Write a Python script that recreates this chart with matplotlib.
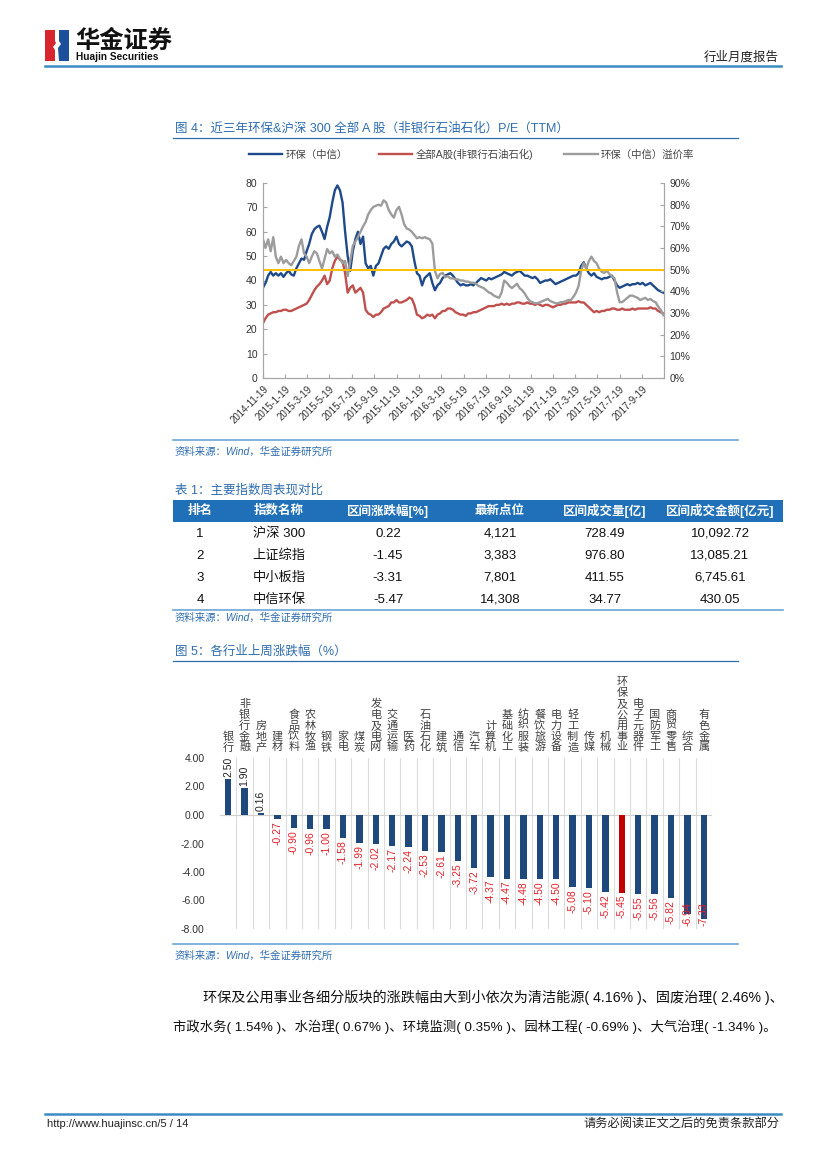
import matplotlib
matplotlib.use('Agg')
import matplotlib.pyplot as plt
from matplotlib.patches import Rectangle, Polygon
import pandas as pd

plt.rcParams['font.family'] = ['Liberation Sans', 'Noto Sans CJK SC', 'DejaVu Sans']
plt.rcParams['axes.unicode_minus'] = False

# ---------------- data: figure 4 (weekly P/E) ----------------
start_date = '2014-11-19'
end_date = '2017-11-17'
hb_pe = [37, 39, 42, 43.5, 42, 43, 42, 43, 41.5, 43, 44, 42.5, 42, 45, 47, 49, 48.5, 52, 55, 59,
         61, 62, 62.5, 60, 57, 62, 66, 72, 77, 79, 77, 72, 60, 50, 44, 52, 57, 60, 55, 58,
         47, 45, 46, 42, 46, 47, 50, 53, 54, 53, 55, 56, 58, 55, 54, 55, 56, 55.5, 54, 48,
         43, 42, 38, 41, 42, 43, 39, 36, 38, 39, 41, 42, 42.5, 43, 42, 40.5, 39, 38, 38.5, 38,
         38, 38.5, 38, 39, 40, 41, 40.5, 40, 41, 40.5, 41, 41.5, 42, 42.5, 43.5, 43, 42.5, 42, 43, 43.5,
         44, 43, 42, 42, 41.5, 41, 41.5, 40.5, 39, 39.5, 40, 40, 40.5, 39.5, 38.5, 39, 39.5, 40, 40.5, 41,
         41.5, 42, 42, 43, 46, 47.5, 45, 43, 42, 43, 41.5, 41, 40.5, 41, 41, 41.5, 42, 40, 38, 37,
         37.5, 38, 38.5, 38, 38.5, 38.5, 39, 38.5, 39, 38, 38.5, 39, 38, 37, 36, 35.5, 35]
a_pe = [22.5, 24.5, 26, 26.5, 27, 27, 27.5, 27.5, 28, 28, 27.5, 27.5, 28, 28.5, 29, 29.5, 30, 30.5, 32, 34,
        36, 37.5, 38.5, 40, 42, 38.5, 40, 45, 48, 50, 48.5, 48, 43, 35, 37, 38, 35, 36, 37, 35,
        28, 26.5, 26, 25, 26, 26, 27, 28.5, 29, 29.5, 31, 31, 32, 31, 31, 31.5, 32, 33, 32.5, 30,
        26, 25.5, 24.5, 25, 26, 25.5, 26, 24.5, 26, 26.5, 27.5, 27.5, 28.5, 28.5, 28, 27, 26.5, 26, 26, 25.5,
        26.5, 26.5, 27, 27, 27.5, 28, 28.5, 29, 29.5, 29.5, 29.5, 30, 30, 30.5, 30, 30.5, 30, 30.5, 30.5, 31,
        31, 30.5, 30.5, 31, 30.5, 30.5, 30, 30.5, 30, 29.5, 30, 30, 29.5, 29, 29.5, 30, 30, 30.5, 30.5, 31,
        31, 31, 31, 31.5, 31, 31, 30, 29, 28, 27, 27.5, 27, 27.5, 27.5, 28, 28, 28.5, 28.5, 28, 28,
        28.5, 28, 28, 28, 28.5, 28, 28.5, 28.5, 28.5, 28.5, 28.5, 29, 28.5, 28.5, 27.5, 27, 26.5]
premium = [64, 60, 64, 58.5, 65, 56, 53, 56, 53, 54.5, 53, 52, 54, 56, 61, 64, 57.5, 56, 53, 56,
           58.5, 57.5, 54, 50.5, 55, 59.5, 57.5, 58.5, 56, 57, 55, 53, 54, 47, 54, 61, 63, 65, 67.5, 70,
           72, 75.5, 77.5, 79, 79.5, 80, 79.5, 82, 81, 77.5, 75.5, 74, 77.5, 79, 75.5, 71, 69, 68.5, 67.5, 66,
           64.5, 65, 64.5, 65, 64.5, 64, 62, 49.5, 46, 48, 48.5, 46.5, 47, 46, 46, 45.5, 45.5, 45, 45, 44.5,
           44.5, 44, 44, 43.5, 42.5, 42, 41.5, 40.5, 39.5, 39, 38, 37.5, 37, 39.5, 45, 44, 42.5, 41.5, 42.5, 43.5,
           41.5, 40.5, 39, 37, 35.5, 35, 34.5, 34.5, 35, 35.5, 36, 36.5, 35.5, 35, 34.5, 34.5, 35, 35, 35.5, 36,
           36, 37.5, 39.5, 42.5, 49.5, 53, 50.5, 54, 56, 54, 53, 50.5, 49, 48.5, 49.5, 48, 47, 46, 39.5, 35,
           35, 36, 37, 38, 38, 37.5, 37, 36, 36.5, 37, 36, 36.5, 35.5, 35, 33, 31.5, 29]
premium_ref = 50
date_ticks = ['2014-11-19', '2015-1-19', '2015-3-19', '2015-5-19', '2015-7-19', '2015-9-19',
              '2015-11-19', '2016-1-19', '2016-3-19', '2016-5-19', '2016-7-19', '2016-9-19',
              '2016-11-19', '2017-1-19', '2017-3-19', '2017-5-19', '2017-7-19', '2017-9-19']
legend_labels = ['环保（中信）', '全部A股(非银行石油石化)', '环保（中信）溢价率']

# ---------------- data: table 1 ----------------
tbl_header = ['排名', '指数名称', '区间涨跌幅[%]', '最新点位', '区间成交量[亿]', '区间成交金额[亿元]']
tbl_rank = ['1', '2', '3', '4']
tbl_name = ['沪深 300', '上证综指', '中小板指', '中信环保']
tbl_pct = ['0.22', '-1.45', '-3.31', '-5.47']
tbl_last = ['4,121', '3,383', '7,801', '14,308']
tbl_vol = ['728.49', '976.80', '411.55', '34.77']
tbl_amt = ['10,092.72', '13,085.21', '6,745.61', '430.05']

# ---------------- data: figure 5 ----------------
industries = ['银行', '非银行金融', '房地产', '建材', '食品饮料', '农林牧渔', '钢铁', '家电', '煤炭',
              '发电及电网', '交通运输', '医药', '石油石化', '建筑', '通信', '汽车', '计算机', '基础化工',
              '纺织服装', '餐饮旅游', '电力设备', '轻工制造', '传媒', '机械', '环保及公用事业',
              '电子元器件', '国防军工', '商贸零售', '综合', '有色金属']
changes = [2.50, 1.90, 0.16, -0.27, -0.90, -0.96, -1.00, -1.58, -1.99, -2.02, -2.17, -2.24, -2.53,
           -2.61, -3.25, -3.72, -4.37, -4.47, -4.48, -4.50, -4.50, -5.08, -5.10, -5.42, -5.45,
           -5.55, -5.56, -5.82, -6.94, -7.33]
highlight = '环保及公用事业'

# ---------------- layout helpers ----------------
W, H = 827, 1169
fig = plt.figure(figsize=(W / 100, H / 100), dpi=100)
fig.patch.set_facecolor('white')


def axes_px(l, t, r, b):
    return fig.add_axes([l / W, 1 - b / H, (r - l) / W, (b - t) / H])


pg = fig.add_axes([0, 0, 1, 1])
pg.set_xlim(0, W)
pg.set_ylim(H, 0)
pg.axis('off')

TITLE_BLUE = '#2E6DB0'
LINE_BLUE = '#3B8CC2'
LIGHT_BLUE = '#6AA6D8'

# header / logo
pg.add_patch(Rectangle((45, 30), 12, 31, color='#D7262E', lw=0))
pg.add_patch(Rectangle((57, 30), 12, 31, color='#1C4F9C', lw=0))
pg.add_patch(Polygon([(55, 30), (59, 30), (59, 41), (61, 44), (58, 48), (59, 61), (55, 61),
                      (55, 50), (53, 47), (56, 43), (55, 41)], closed=True, color='white', lw=0))
pg.text(75, 41, '华金证券', fontsize=17.5, fontweight='bold', color='#111111', va='center', ha='left',
        family=['Noto Sans CJK SC'])
pg.text(76, 56.5, 'Huajin Securities', fontsize=7.3, fontweight='bold', color='#111111', va='center', ha='left')
pg.text(779, 57, '行业月度报告', fontsize=9, color='#222222', va='center', ha='right')
pg.plot([45, 781], [66, 66], color=LINE_BLUE, lw=1.8)

# figure 4 title & source
pg.text(175, 128, '图 4：近三年环保&沪深 300 全部 A 股（非银行石油石化）P/E（TTM）', fontsize=9,
        color=TITLE_BLUE, va='center', ha='left')
pg.plot([173, 738], [137.5, 137.5], color='#2F6CA8', lw=0.9)
pg.plot([173, 738], [440, 440], color=LIGHT_BLUE, lw=1.2)
pg.text(175, 452, '资料来源：Wind，华金证券研究所', fontsize=7.5, color=TITLE_BLUE, style='italic',
        va='center', ha='left')

# ---------------- figure 4: line chart ----------------
dates = pd.date_range(start_date, periods=len(hb_pe), freq='7D')
ax = axes_px(263, 183, 664, 378)
ax.set_facecolor('none')
l1, = ax.plot(dates, hb_pe, color='#1F4A8A', lw=1.7)
l2, = ax.plot(dates, a_pe, color='#C0504D', lw=1.7)
ax.set_ylim(0, 80)
ax.set_yticks(range(0, 81, 10))
ax2 = ax.twinx()
l3, = ax2.plot(dates, premium, color='#9C9C9C', lw=1.7)
ax2.axhline(premium_ref, color='#FFC000', lw=1.4)
ax2.set_ylim(0, 90)
ax2.set_yticks(range(0, 91, 10))
ax2.set_yticklabels([f'{v}%' for v in range(0, 91, 10)])
tick_dates = pd.to_datetime(date_ticks)
ax.set_xlim(pd.Timestamp(start_date), pd.Timestamp(end_date))
ax.set_xticks(tick_dates)
ax.set_xticklabels(date_ticks, rotation=45, ha='right', rotation_mode='anchor')
for a in (ax, ax2):
    a.spines['top'].set_visible(False)
    for s in ('left', 'right', 'bottom'):
        a.spines[s].set_color('#A6A6A6')
        a.spines[s].set_linewidth(0.8)
    a.tick_params(direction='in', length=3, color='#A6A6A6', labelsize=7.5, labelcolor='#333333', pad=4)
ax.tick_params(axis='x', labelsize=7, pad=4)
ax.legend([l1, l2, l3], legend_labels, loc='lower center', bbox_to_anchor=(0.52, 1.07), ncol=3,
          frameon=False, fontsize=7.5, handlelength=3.2, columnspacing=3.0, handletextpad=0.3,
          labelcolor='#444444')

# ---------------- table 1 ----------------
pg.text(175, 490, '表 1：主要指数周表现对比', fontsize=9, color=TITLE_BLUE, va='center', ha='left')
pg.add_patch(Rectangle((173, 500), 610, 22, color='#1F70B8', lw=0))
col_x = [200, 279, 388, 500, 605, 720]
for cx, h in zip(col_x, tbl_header):
    pg.text(cx, 511, h, fontsize=9, color='white', fontweight='bold', va='center', ha='center')
row_y = [534, 556, 578, 600]
columns = [tbl_rank, tbl_name, tbl_pct, tbl_last, tbl_vol, tbl_amt]
for ci, col in enumerate(columns):
    for ri, val in enumerate(col):
        pg.text(col_x[ci], row_y[ri], val, fontsize=9.5, color='#111111', va='center', ha='center')
pg.plot([173, 783], [609.5, 609.5], color=LIGHT_BLUE, lw=1.2)
pg.text(175, 618, '资料来源：Wind，华金证券研究所', fontsize=7.5, color=TITLE_BLUE, style='italic',
        va='center', ha='left')

# ---------------- figure 5: bar chart ----------------
pg.text(175, 651, '图 5：各行业上周涨跌幅（%）', fontsize=9, color=TITLE_BLUE, va='center', ha='left')
pg.plot([173, 738], [661, 661], color='#2F6CA8', lw=0.9)
pg.plot([173, 738], [944, 944], color=LIGHT_BLUE, lw=1.2)
pg.text(175, 956, '资料来源：Wind，华金证券研究所', fontsize=7.5, color=TITLE_BLUE, style='italic',
        va='center', ha='left')

bx = list(range(len(industries)))
bcolors = ['#C00000' if n == highlight else '#1F497D' for n in industries]
ax3 = axes_px(220, 758, 712, 929)
ax3.set_facecolor('none')
for k in bx:
    ax3.axvline(k + 0.5, color='#DCDCDC', lw=0.8, zorder=0)
ax3.axhline(0, color='#D0D0D0', lw=0.8, zorder=1)
ax3.bar(bx, changes, width=0.38, color=bcolors, zorder=2)
ax3.set_xlim(-0.5, len(industries) - 0.5)
ax3.set_ylim(-8, 4)
yt = [4, 2, 0, -2, -4, -6, -8]
ax3.set_yticks(yt)
ax3.set_yticklabels([f'{v:.2f}' for v in yt])
ax3.set_xticks([])
ax3.tick_params(axis='y', length=0, labelsize=7.5, labelcolor='#333333', pad=11)
for s in ax3.spines.values():
    s.set_visible(False)
for i, (name, v) in enumerate(zip(industries, changes)):
    for k, ch in enumerate(reversed(name)):
        ax3.annotate(ch, xy=(i, 1), xycoords=('data', 'axes fraction'), xytext=(0, 4 + k * 7.8),
                     textcoords='offset points', ha='center', va='bottom', fontsize=8,
                     color='#404040', annotation_clip=False)
    if v >= 0:
        ax3.text(i, v + 0.15, f'{v:.2f}', rotation=90, ha='center', va='bottom', fontsize=7.5,
                 color='#222222')
    else:
        ax3.text(i, max(v - 0.15, -6.15), f'{v:.2f}', rotation=90, ha='center', va='top', fontsize=7.5,
                 color='#E8202A')

# ---------------- paragraph ----------------
pg.text(203, 997, '环保及公用事业各细分版块的涨跌幅由大到小依次为清洁能源( 4.16% )、固废治理( 2.46% )、',
        fontsize=10.2, color='#111111', va='center', ha='left')
pg.text(173, 1027, '市政水务( 1.54% )、水治理( 0.67% )、环境监测( 0.35% )、园林工程( -0.69% )、大气治理( -1.34% )。',
        fontsize=9.6, color='#111111', va='center', ha='left')

# ---------------- footer ----------------
pg.plot([45, 781], [1114, 1114], color=LINE_BLUE, lw=1.8)
pg.text(47, 1124, 'http://www.huajinsc.cn/5 / 14', fontsize=8, color='#222222', va='center', ha='left')
pg.text(779, 1124, '请务必阅读正文之后的免责条款部分', fontsize=8.8, color='#222222', va='center', ha='right')

fig.savefig('out.png', dpi=100, facecolor='white')
